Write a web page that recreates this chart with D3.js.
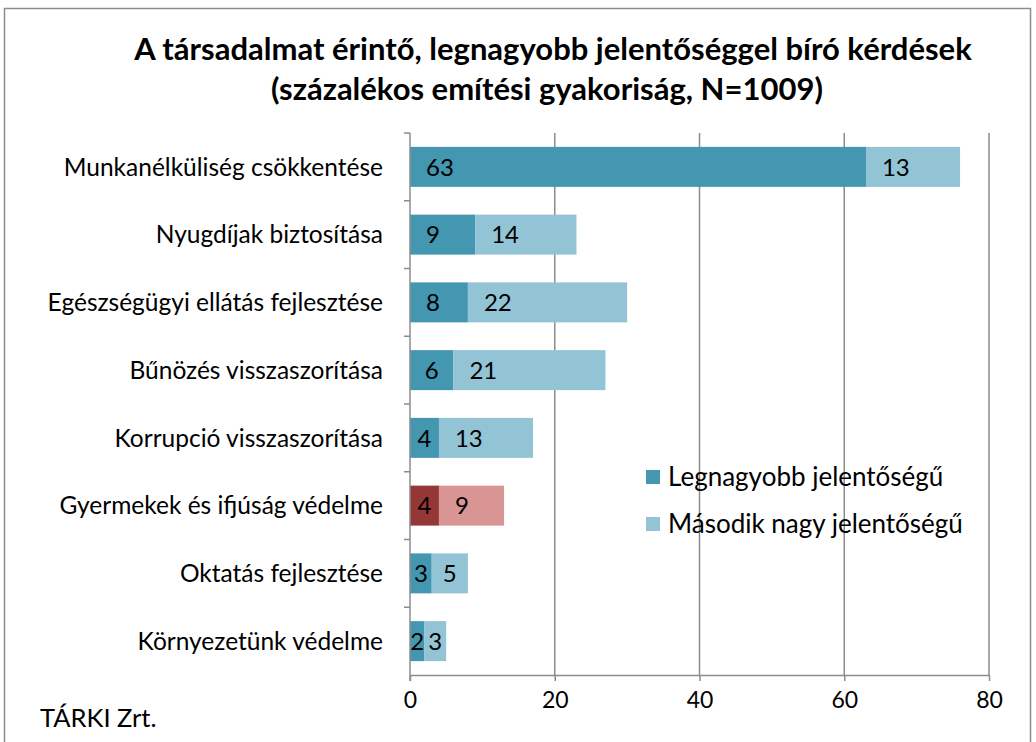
<!DOCTYPE html>
<html lang="hu">
<head>
    <meta charset="UTF-8" />
    <title>A társadalmat érintő kérdések</title>
    <script src="https://d3js.org/d3.v7.min.js"></script>
    <style>
        body { margin: 0; background: #fff; }
        svg text { font-family: Lato, "Open Sans", sans-serif; fill: #000; }
    </style>
</head>
<body>
<script>
    // chart data
    var categories = [
        "Munkanélküliség csökkentése",
        "Nyugdíjak biztosítása",
        "Egészségügyi ellátás fejlesztése",
        "Bűnözés visszaszorítása",
        "Korrupció visszaszorítása",
        "Gyermekek és ifjúság védelme",
        "Oktatás fejlesztése",
        "Környezetünk védelme"
    ];
    var legnagyobb = [63, 9, 8, 6, 4, 4, 3, 2];
    var masodik = [13, 14, 22, 21, 13, 9, 5, 3];
    var seriesNames = ["Legnagyobb jelentőségű", "Második nagy jelentőségű"];
    var xTicks = [0, 20, 40, 60, 80];
    var highlighted = "Gyermekek és ifjúság védelme";

    var w = 1036, h = 742;
    var plotLeft = 410, plotRight = 989, plotTop = 133, plotBottom = 675;

    var colors = ["#4397b0", "#93c4d6"];
    var redColors = ["#953735", "#d99594"];

    var svg = d3.select("body").append("svg")
        .attr("width", w)
        .attr("height", h);

    // outer frame
    svg.append("rect")
        .attr("x", 4.5).attr("y", 8.5)
        .attr("width", 1026).attr("height", 740)
        .attr("fill", "none")
        .attr("stroke", "#8c8c8c")
        .attr("stroke-width", 1.5);

    // title
    svg.append("text")
        .attr("x", 553).attr("y", 60)
        .attr("text-anchor", "middle")
        .style("font-size", "31px").style("font-weight", "bold")
        .text("A társadalmat érintő, legnagyobb jelentőséggel bíró kérdések");
    svg.append("text")
        .attr("x", 547).attr("y", 100)
        .attr("text-anchor", "middle")
        .style("font-size", "31px").style("font-weight", "bold")
        .text("(százalékos emítési gyakoriság, N=1009)");

    var x = d3.scaleLinear().domain([0, 80]).range([plotLeft, plotRight]);
    var y = d3.scaleBand().domain(categories).range([plotTop, plotBottom]).paddingInner(0.41).paddingOuter(0.205);
    var band = d3.scaleBand().domain(categories).range([plotTop, plotBottom]);

    // vertical gridlines
    svg.append("g")
        .selectAll("line")
        .data(xTicks.slice(1))
        .enter().append("line")
        .attr("x1", function (d) { return x(d); })
        .attr("x2", function (d) { return x(d); })
        .attr("y1", plotTop).attr("y2", plotBottom)
        .attr("stroke", "#8c8c8c").attr("stroke-width", 1.5);

    // x axis
    var xAxis = svg.append("g")
        .attr("transform", "translate(0," + plotBottom + ")")
        .call(d3.axisBottom(x).tickValues(xTicks).tickSize(6).tickSizeOuter(0));
    xAxis.select(".domain").attr("stroke", "#8c8c8c").attr("stroke-width", 1.5);
    xAxis.selectAll(".tick line").attr("stroke", "#8c8c8c").attr("stroke-width", 1.5);
    xAxis.selectAll(".tick text")
        .attr("y", 17)
        .style("font-size", "23px")
        .style("font-family", "Lato, sans-serif");

    // stacked bars
    var rows = categories.map(function (c, i) {
        return { cat: c, a: legnagyobb[i], b: masodik[i] };
    });

    var g = svg.append("g");
    rows.forEach(function (r) {
        var cols = r.cat === highlighted ? redColors : colors;
        var segs = [
            { x0: 0, x1: r.a, v: r.a, fill: cols[0] },
            { x0: r.a, x1: r.a + r.b, v: r.b, fill: cols[1] }
        ];
        segs.forEach(function (s) {
            g.append("rect")
                .attr("x", x(s.x0))
                .attr("y", y(r.cat))
                .attr("width", x(s.x1) - x(s.x0))
                .attr("height", y.bandwidth())
                .attr("fill", s.fill);
            var segW = x(s.x1) - x(s.x0);
            var t = g.append("text")
                .attr("y", y(r.cat) + y.bandwidth() / 2)
                .attr("dy", "0.36em")
                .style("font-size", "24px")
                .text(s.v);
            var tw = t.node().getComputedTextLength();
            t.attr("x", x(s.x0) + Math.min(16, (segW - tw) / 2));
        });
    });

    // category axis
    var yAxis = svg.append("g")
        .attr("transform", "translate(" + plotLeft + ",0)");
    yAxis.append("line")
        .attr("x1", 0).attr("x2", 0)
        .attr("y1", plotTop).attr("y2", plotBottom + 6)
        .attr("stroke", "#8c8c8c").attr("stroke-width", 1.5);
    yAxis.selectAll(".cat-tick")
        .data(categories)
        .enter().append("line")
        .attr("class", "cat-tick")
        .attr("x1", -6).attr("x2", 0)
        .attr("y1", function (d) { return band(d); })
        .attr("y2", function (d) { return band(d); })
        .attr("stroke", "#8c8c8c").attr("stroke-width", 1.5);
    yAxis.selectAll(".cat-label")
        .data(categories)
        .enter().append("text")
        .attr("class", "cat-label")
        .attr("x", -27)
        .attr("y", function (d) { return band(d) + band.bandwidth() / 2; })
        .attr("dy", "0.36em")
        .attr("text-anchor", "end")
        .style("font-size", "24.5px")
        .text(function (d) { return d; });

    // legend
    var legend = svg.append("g").attr("transform", "translate(646,470)");
    seriesNames.forEach(function (name, i) {
        legend.append("rect")
            .attr("x", 0).attr("y", i * 47)
            .attr("width", 14).attr("height", 14)
            .attr("fill", colors[i]);
        legend.append("text")
            .attr("x", 22).attr("y", i * 47 + 7)
            .attr("dy", "0.36em")
            .style("font-size", "26px")
            .text(name);
    });

    // source note
    svg.append("text")
        .attr("x", 40).attr("y", 727)
        .style("font-size", "25.5px")
        .text("TÁRKI Zrt.");
</script>
</body>
</html>
